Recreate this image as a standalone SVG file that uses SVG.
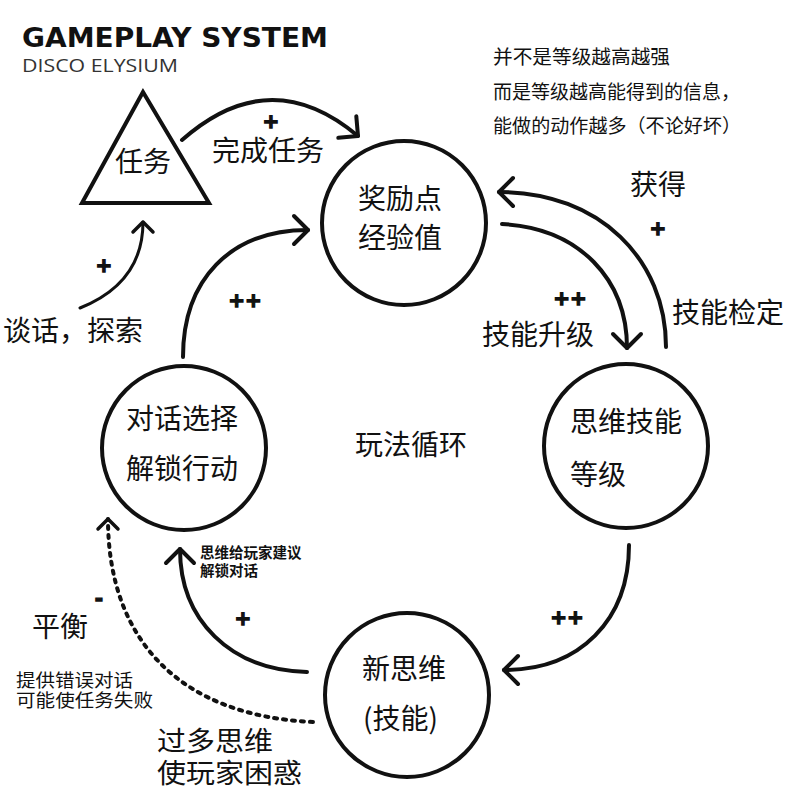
<svg xmlns="http://www.w3.org/2000/svg" width="800" height="800" viewBox="0 0 800 800">
  <style>
    .node { fill: none; stroke: #111; stroke-width: 4; }
    .cn { font-family: "Noto Sans CJK SC", "Noto Sans", sans-serif; fill: #111; }
    .big { font-size: 28px; }
    .mid { font-size: 18px; }
    .sm { font-size: 19px; }
    .tiny { font-size: 14.5px; font-weight: bold; }
    .sign { font-family: "DejaVu Sans", sans-serif; font-weight: bold; font-size: 20px; fill: #111; stroke: #111; stroke-width: 1.3; text-anchor: middle; }
    .edge { fill: none; stroke: #111; stroke-width: 4; stroke-linecap: round; }
    .thin { stroke-width: 3; }
    .dot { stroke-dasharray: 3 6; }
  </style>
  <defs>
    <marker id="chev" markerUnits="userSpaceOnUse" viewBox="-20 -20 40 40" markerWidth="40" markerHeight="40" refX="0" refY="0" orient="auto" overflow="visible">
      <path d="M-14,-14 L0,0 L-14,14" fill="none" stroke="#111" stroke-width="4" stroke-linecap="round" stroke-linejoin="round"/>
    </marker>
    <marker id="chevS" markerUnits="userSpaceOnUse" viewBox="-20 -20 40 40" markerWidth="40" markerHeight="40" refX="0" refY="0" orient="auto" overflow="visible">
      <path d="M-10,-10 L0,0 L-10,10" fill="none" stroke="#111" stroke-width="3.5" stroke-linecap="round" stroke-linejoin="round"/>
    </marker>
  </defs>
  <rect width="800" height="800" fill="#fff"/>

  <g id="title">
    <text x="22" y="47" font-family="DejaVu Sans, sans-serif" font-weight="bold" font-size="27" fill="#111" textLength="306" lengthAdjust="spacingAndGlyphs">GAMEPLAY SYSTEM</text>
    <text x="22" y="72" font-family="Open Sans, sans-serif" font-size="18" fill="#333" textLength="156" lengthAdjust="spacingAndGlyphs">DISCO ELYSIUM</text>
  </g>

  <g id="note">
    <text class="cn sm" x="493" y="64" textLength="177" lengthAdjust="spacingAndGlyphs">并不是等级越高越强</text>
    <text class="cn sm" x="493" y="99" textLength="247" lengthAdjust="spacingAndGlyphs">而是等级越高能得到的信息，</text>
    <text class="cn sm" x="493" y="133" textLength="248" lengthAdjust="spacingAndGlyphs">能做的动作越多（不论好坏）</text>
  </g>

  <g id="connectors">
    <path class="edge" d="M182,140 Q270,62 358,136" marker-end="url(#chev)"/>
    <path class="edge thin" d="M80,308 C120,292 143,265 143,222" marker-end="url(#chevS)"/>
    <path class="edge" d="M183,357 C183,280 230,230 308,230" marker-end="url(#chev)"/>
    <path class="edge" d="M502,224 C580,228 627,280 627,348" marker-end="url(#chev)"/>
    <path class="edge" d="M666,347 C666,260 600,192 499,192" marker-end="url(#chev)"/>
    <path class="edge" d="M629,545 C629,620 580,670 504,670" marker-end="url(#chev)"/>
    <path class="edge" d="M307,672 C230,670 180,620 180,549" marker-end="url(#chev)"/>
    <path class="edge dot" d="M313,722 C180,716 108,640 108,519" marker-end="url(#chevS)"/>
  </g>

  <g id="edge-labels">
    <text class="sign" x="271" y="128">+</text>
    <text class="cn big" x="212" y="161">完成任务</text>
    <text class="sign" x="104" y="272">+</text>
    <text class="cn big" x="3" y="341">谈话，探索</text>
    <text class="sign" x="245" y="307">++</text>
    <text class="sign" x="570" y="305">++</text>
    <text class="cn big" x="482" y="345" font-size="29">技能升级</text>
    <text class="sign" x="658" y="235">+</text>
    <text class="cn big" x="630" y="195">获得</text>
    <text class="cn big" x="672" y="323">技能检定</text>
    <text class="sign" x="567" y="624">++</text>
    <text class="sign" x="243" y="625">+</text>
    <text class="cn tiny" x="200" y="558">思维给玩家建议</text>
    <text class="cn tiny" x="200" y="576">解锁对话</text>
    <text class="sign" x="99" y="605">-</text>
    <text class="cn big" x="32" y="637">平衡</text>
    <text class="cn mid" x="16" y="687" textLength="117" lengthAdjust="spacingAndGlyphs">提供错误对话</text>
    <text class="cn mid" x="16" y="707" textLength="137" lengthAdjust="spacingAndGlyphs">可能使任务失败</text>
    <text class="cn" x="157" y="751" font-size="27" textLength="116" lengthAdjust="spacingAndGlyphs">过多思维</text>
    <text class="cn" x="157" y="783" font-size="27" textLength="145" lengthAdjust="spacingAndGlyphs">使玩家困惑</text>
  </g>

  <g id="center-label">
    <text class="cn big" x="355" y="455">玩法循环</text>
  </g>

  <g id="node-task">
    <polygon class="node" points="143,92 82,203 209,203" stroke-linejoin="miter"/>
    <text class="cn big" x="115" y="172" font-size="29">任务</text>
  </g>

  <g id="node-reward">
    <circle class="node" cx="404" cy="223" r="82"/>
    <text class="cn big" x="358" y="209">奖励点</text>
    <text class="cn big" x="358" y="248">经验值</text>
  </g>

  <g id="node-skill">
    <circle class="node" cx="626" cy="446" r="82"/>
    <text class="cn big" x="570" y="432" font-size="29">思维技能</text>
    <text class="cn big" x="570" y="485" font-size="29">等级</text>
  </g>

  <g id="node-dialogue">
    <circle class="node" cx="184" cy="448" r="82"/>
    <text class="cn big" x="126" y="429" font-size="29">对话选择</text>
    <text class="cn big" x="126" y="479" font-size="29">解锁行动</text>
  </g>

  <g id="node-thought">
    <circle class="node" cx="407" cy="695" r="82"/>
    <text class="cn big" x="362" y="679">新思维</text>
    <text class="cn big" x="363" y="729">(技能)</text>
  </g>
</svg>
